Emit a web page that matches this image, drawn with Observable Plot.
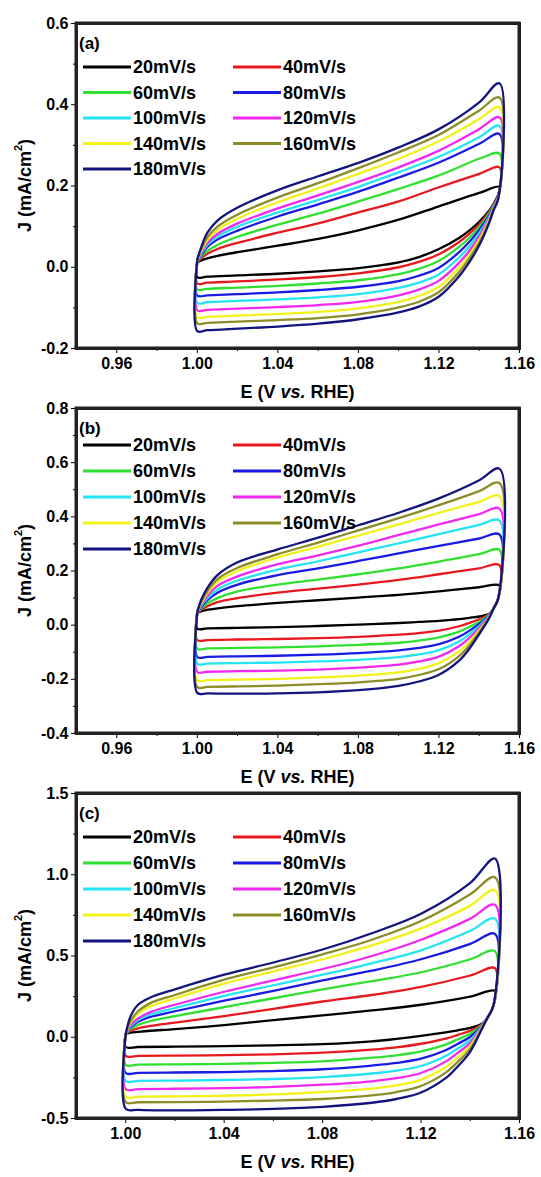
<!DOCTYPE html>
<html>
<head>
<meta charset="utf-8">
<script src="https://cdn.jsdelivr.net/npm/d3@7"></script>
<script src="https://cdn.jsdelivr.net/npm/@observablehq/plot@0.6"></script>
<style>
  html, body { margin: 0; padding: 0; background: #ffffff; }
  body { width: 541px; height: 1177px; overflow: hidden; font-family: "Liberation Sans", Arial, sans-serif; }
  #chart svg { display: block; overflow: visible; margin-bottom: -15px; }
</style>
</head>
<body>
<div id="chart"></div>
<script>
// ---------- data ----------
const rates = ["20mV/s", "40mV/s", "60mV/s", "80mV/s", "100mV/s", "120mV/s", "140mV/s", "160mV/s", "180mV/s"];
const colors = ["#000000", "#e8191e", "#2fe02f", "#1a1ae6", "#22e4f2", "#f028f0", "#f2f21a", "#8c8c28", "#14147f"];

// potential grids (V vs. RHE): anodic sweep then cathodic sweep
const anodicE = [1.000, 1.002, 1.005, 1.01, 1.02, 1.04, 1.06, 1.08, 1.10, 1.12, 1.14, 1.15];
const cathodicE = [1.1495, 1.147, 1.145, 1.14, 1.135, 1.13, 1.12, 1.11, 1.10, 1.08, 1.06, 1.04, 1.02, 1.005, 1.000];

// panel (a) current density (mA/cm2)
const aAnodic = [
  [0.012, 0.017, 0.022, 0.028, 0.037, 0.053, 0.070, 0.091, 0.117, 0.150, 0.183, 0.198],
  [0.013, 0.022, 0.033, 0.045, 0.060, 0.085, 0.108, 0.135, 0.162, 0.197, 0.230, 0.246],
  [0.014, 0.026, 0.040, 0.055, 0.075, 0.105, 0.132, 0.162, 0.193, 0.226, 0.267, 0.280],
  [0.015, 0.030, 0.050, 0.068, 0.090, 0.125, 0.155, 0.186, 0.221, 0.258, 0.304, 0.328],
  [0.016, 0.033, 0.055, 0.075, 0.100, 0.135, 0.166, 0.198, 0.234, 0.272, 0.320, 0.348],
  [0.017, 0.036, 0.060, 0.082, 0.108, 0.145, 0.177, 0.210, 0.246, 0.287, 0.340, 0.369],
  [0.018, 0.040, 0.067, 0.092, 0.120, 0.160, 0.194, 0.230, 0.267, 0.310, 0.365, 0.394],
  [0.019, 0.044, 0.074, 0.100, 0.130, 0.172, 0.207, 0.244, 0.283, 0.326, 0.386, 0.418],
  [0.020, 0.050, 0.085, 0.115, 0.147, 0.190, 0.224, 0.257, 0.295, 0.340, 0.406, 0.453]
];
const aCathodic = [
  [0.180, 0.155, 0.140, 0.112, 0.090, 0.072, 0.045, 0.025, 0.012, -0.002, -0.010, -0.016, -0.020, -0.023, -0.025],
  [0.178, 0.153, 0.137, 0.106, 0.082, 0.062, 0.032, 0.013, 0.000, -0.015, -0.024, -0.030, -0.035, -0.038, -0.040],
  [0.176, 0.151, 0.133, 0.099, 0.072, 0.050, 0.016, -0.004, -0.017, -0.032, -0.040, -0.046, -0.050, -0.053, -0.055],
  [0.175, 0.149, 0.129, 0.092, 0.062, 0.037, -0.001, -0.021, -0.034, -0.048, -0.056, -0.062, -0.066, -0.069, -0.070],
  [0.174, 0.147, 0.125, 0.084, 0.051, 0.024, -0.017, -0.038, -0.051, -0.066, -0.074, -0.079, -0.083, -0.086, -0.088],
  [0.173, 0.145, 0.121, 0.076, 0.040, 0.011, -0.033, -0.055, -0.069, -0.085, -0.093, -0.098, -0.102, -0.105, -0.106],
  [0.172, 0.143, 0.117, 0.068, 0.030, -0.001, -0.048, -0.071, -0.085, -0.101, -0.110, -0.115, -0.119, -0.122, -0.123],
  [0.171, 0.141, 0.113, 0.061, 0.021, -0.012, -0.061, -0.085, -0.099, -0.116, -0.125, -0.130, -0.134, -0.137, -0.138],
  [0.170, 0.139, 0.110, 0.054, 0.012, -0.022, -0.072, -0.097, -0.111, -0.128, -0.139, -0.146, -0.151, -0.155, -0.157]
];

// panel (b)
const bAnodic = [
  [0.045, 0.052, 0.057, 0.062, 0.070, 0.082, 0.092, 0.102, 0.112, 0.125, 0.140, 0.147],
  [0.046, 0.057, 0.070, 0.085, 0.100, 0.120, 0.135, 0.150, 0.167, 0.188, 0.210, 0.222],
  [0.047, 0.062, 0.080, 0.100, 0.125, 0.150, 0.168, 0.188, 0.210, 0.235, 0.262, 0.278],
  [0.048, 0.067, 0.092, 0.120, 0.150, 0.185, 0.210, 0.237, 0.265, 0.293, 0.320, 0.335],
  [0.049, 0.072, 0.100, 0.132, 0.165, 0.205, 0.236, 0.269, 0.302, 0.336, 0.370, 0.387],
  [0.050, 0.077, 0.108, 0.145, 0.180, 0.225, 0.258, 0.294, 0.333, 0.372, 0.410, 0.430],
  [0.050, 0.082, 0.118, 0.160, 0.200, 0.250, 0.290, 0.331, 0.372, 0.415, 0.455, 0.477],
  [0.050, 0.087, 0.125, 0.170, 0.212, 0.262, 0.305, 0.350, 0.395, 0.443, 0.495, 0.525],
  [0.050, 0.095, 0.138, 0.185, 0.232, 0.280, 0.323, 0.369, 0.415, 0.468, 0.535, 0.578]
];
const bCathodic = [
  [0.100, 0.060, 0.042, 0.032, 0.027, 0.022, 0.016, 0.012, 0.008, 0.002, -0.003, -0.007, -0.010, -0.012, -0.013],
  [0.100, 0.060, 0.041, 0.022, 0.008, -0.004, -0.020, -0.029, -0.035, -0.043, -0.048, -0.051, -0.053, -0.055, -0.055],
  [0.100, 0.060, 0.039, 0.013, -0.007, -0.024, -0.045, -0.057, -0.065, -0.073, -0.078, -0.082, -0.084, -0.086, -0.087],
  [0.100, 0.060, 0.037, 0.005, -0.021, -0.043, -0.070, -0.084, -0.093, -0.103, -0.109, -0.113, -0.115, -0.117, -0.118],
  [0.100, 0.060, 0.035, -0.003, -0.034, -0.060, -0.092, -0.108, -0.118, -0.128, -0.134, -0.138, -0.140, -0.142, -0.143],
  [0.100, 0.060, 0.033, -0.011, -0.048, -0.078, -0.116, -0.134, -0.146, -0.157, -0.164, -0.168, -0.170, -0.172, -0.173],
  [0.100, 0.060, 0.031, -0.019, -0.062, -0.097, -0.140, -0.161, -0.174, -0.186, -0.193, -0.198, -0.201, -0.203, -0.204],
  [0.100, 0.060, 0.029, -0.026, -0.075, -0.114, -0.162, -0.184, -0.198, -0.211, -0.218, -0.223, -0.226, -0.228, -0.229],
  [0.100, 0.060, 0.027, -0.033, -0.088, -0.131, -0.183, -0.208, -0.224, -0.240, -0.248, -0.252, -0.253, -0.252, -0.250]
];

// panel (c)
const cAnodic = [
  [0.020, 0.028, 0.033, 0.040, 0.050, 0.075, 0.105, 0.135, 0.165, 0.200, 0.250, 0.285],
  [0.020, 0.040, 0.055, 0.070, 0.090, 0.130, 0.175, 0.220, 0.260, 0.310, 0.380, 0.425],
  [0.020, 0.050, 0.075, 0.100, 0.130, 0.185, 0.240, 0.295, 0.345, 0.400, 0.480, 0.530],
  [0.020, 0.060, 0.095, 0.125, 0.160, 0.225, 0.285, 0.350, 0.410, 0.480, 0.575, 0.636],
  [0.020, 0.068, 0.105, 0.140, 0.180, 0.255, 0.320, 0.385, 0.455, 0.535, 0.655, 0.730],
  [0.020, 0.075, 0.115, 0.155, 0.200, 0.280, 0.350, 0.420, 0.500, 0.600, 0.730, 0.815],
  [0.020, 0.090, 0.145, 0.190, 0.240, 0.330, 0.405, 0.480, 0.565, 0.670, 0.810, 0.905],
  [0.020, 0.100, 0.160, 0.210, 0.260, 0.355, 0.430, 0.510, 0.600, 0.715, 0.880, 0.985],
  [0.020, 0.130, 0.200, 0.245, 0.295, 0.385, 0.460, 0.540, 0.640, 0.760, 0.950, 1.100]
];
const cCathodic = [
  [0.200, 0.120, 0.085, 0.058, 0.043, 0.030, 0.008, -0.010, -0.025, -0.042, -0.050, -0.055, -0.058, -0.060, -0.060],
  [0.200, 0.120, 0.082, 0.040, 0.015, -0.008, -0.040, -0.062, -0.076, -0.095, -0.105, -0.110, -0.113, -0.115, -0.115],
  [0.200, 0.120, 0.079, 0.022, -0.012, -0.045, -0.087, -0.111, -0.126, -0.148, -0.158, -0.164, -0.167, -0.169, -0.170],
  [0.200, 0.120, 0.076, 0.003, -0.040, -0.080, -0.132, -0.158, -0.174, -0.197, -0.208, -0.214, -0.217, -0.219, -0.220],
  [0.200, 0.120, 0.073, -0.016, -0.068, -0.115, -0.177, -0.205, -0.223, -0.245, -0.257, -0.263, -0.267, -0.269, -0.270],
  [0.200, 0.120, 0.070, -0.034, -0.095, -0.150, -0.220, -0.252, -0.271, -0.292, -0.306, -0.313, -0.317, -0.319, -0.320],
  [0.200, 0.120, 0.067, -0.052, -0.122, -0.185, -0.262, -0.296, -0.316, -0.337, -0.352, -0.360, -0.364, -0.366, -0.367],
  [0.200, 0.120, 0.064, -0.070, -0.150, -0.218, -0.300, -0.337, -0.358, -0.380, -0.390, -0.396, -0.399, -0.400, -0.400],
  [0.200, 0.120, 0.060, -0.088, -0.178, -0.252, -0.340, -0.380, -0.403, -0.428, -0.441, -0.447, -0.450, -0.447, -0.440]
];

// tick values
const xMajorAB = [0.96, 1.00, 1.04, 1.08, 1.12, 1.16];
const xMinorAB = [0.98, 1.02, 1.06, 1.10, 1.14];
const xMajorC = [1.00, 1.04, 1.08, 1.12, 1.16];
const xMinorC = [1.02, 1.06, 1.10, 1.14];
const yMajorA = [-0.2, 0.0, 0.2, 0.4, 0.6];
const yMinorA = [-0.1, 0.1, 0.3, 0.5];
const yMajorB = [-0.4, -0.2, 0.0, 0.2, 0.4, 0.6, 0.8];
const yMinorB = [-0.3, -0.1, 0.1, 0.3, 0.5, 0.7];
const yMajorC = [-0.5, 0.0, 0.5, 1.0, 1.5];
const yMinorC = [-0.25, 0.25, 0.75, 1.25];

// ---------- build ----------
const FONT = "Liberation Sans, Arial, sans-serif";
const BOX = "#222222";

function loops(anodic, cathodic) {
  const rows = [];
  rates.forEach((r, i) => {
    anodicE.forEach((e, k) => rows.push({rate: r, E: e, J: anodic[i][k]}));
    cathodicE.forEach((e, k) => rows.push({rate: r, E: e, J: cathodic[i][k]}));
    rows.push({rate: r, E: anodicE[0], J: anodic[i][0]});
  });
  return rows;
}

// box, legend, panel letter and axis titles appended to the finished SVG
function decor(svg, label, legTop, legStep) {
  const ml = 76, mt = 23, fr = 541 - 22, fb = 400 - 52;
  const g = d3.select(svg).append("g")
    .attr("font-family", FONT).attr("font-weight", "bold").attr("fill", "#000000");
  const edges = [[ml - 1.5, mt, fr + 1.5, mt], [fr, mt, fr, fb], [ml - 1.5, fb, fr + 1.5, fb], [ml, mt, ml, fb]];
  edges.forEach(([x1, y1, x2, y2]) => {
    g.append("line").attr("x1", x1).attr("y1", y1).attr("x2", x2).attr("y2", y2)
      .attr("stroke", BOX).attr("stroke-width", 3);
  });
  g.append("text").attr("x", ml + 3).attr("y", mt + 20).attr("text-anchor", "start")
    .attr("dominant-baseline", "central").attr("font-size", 17).text(label);
  rates.forEach((r, i) => {
    const col = i % 2, row = Math.floor(i / 2);
    const x0 = ml + (col === 0 ? 7 : 157);
    const y = mt + legTop + row * legStep;
    g.append("line").attr("x1", x0).attr("x2", x0 + 48).attr("y1", y).attr("y2", y)
      .attr("stroke", colors[i]).attr("stroke-width", 3);
    g.append("text").attr("x", x0 + 50).attr("y", y).attr("text-anchor", "start")
      .attr("dominant-baseline", "central").attr("font-size", 18).text(r);
  });
  const xt = g.append("text").attr("x", (ml + fr) / 2).attr("y", fb + 44)
    .attr("text-anchor", "middle").attr("dominant-baseline", "central").attr("font-size", 18);
  xt.append("tspan").text("E (V ");
  xt.append("tspan").attr("font-style", "italic").text("vs.");
  xt.append("tspan").text(" RHE)");
  const yt = g.append("text").attr("transform", `translate(25,${(mt + fb) / 2}) rotate(-90)`)
    .attr("text-anchor", "middle").attr("dominant-baseline", "central").attr("font-size", 18);
  yt.append("tspan").text("J (mA/cm");
  yt.append("tspan").attr("font-size", 11).attr("dy", -7).text("2");
  yt.append("tspan").attr("dy", 7).text(")");
}

function panel(o) {
  const svg = Plot.plot({
    width: 541, height: 400,
    marginTop: 23, marginBottom: 52, marginLeft: 76, marginRight: 22,
    style: {background: "transparent", overflow: "visible", fontFamily: FONT},
    x: {domain: o.xDomain},
    y: {domain: o.yDomain},
    color: {domain: rates, range: colors},
    marks: [
      Plot.line(loops(o.anodic, o.cathodic), {
        x: "E", y: "J", z: "rate", stroke: "rate",
        strokeWidth: 2.3, curve: "catmull-rom"
      }),
      Plot.axisX(o.xMajor, {tickSize: 5, tickPadding: 4, tickFormat: d => d.toFixed(2),
        fontSize: 16, fontWeight: "bold", label: null}),
      Plot.axisX(o.xMinor, {tickSize: 3, tickFormat: () => "", label: null}),
      Plot.axisY(o.yMajor, {tickSize: 5, tickPadding: 3, tickFormat: d => d.toFixed(1),
        fontSize: 16, fontWeight: "bold", label: null}),
      Plot.axisY(o.yMinor, {tickSize: 3, tickFormat: () => "", label: null}),
      Plot.frame({stroke: BOX, strokeWidth: 3})
    ]
  });
  decor(svg, o.label, o.legTop, o.legStep);
  return svg;
}

const root = document.getElementById("chart");
root.append(panel({label: "(a)", xDomain: [0.94, 1.16], yDomain: [-0.2, 0.6],
  xMajor: xMajorAB, xMinor: xMinorAB, yMajor: yMajorA, yMinor: yMinorA,
  anodic: aAnodic, cathodic: aCathodic, legTop: 44, legStep: 25.5}));
root.append(panel({label: "(b)", xDomain: [0.94, 1.16], yDomain: [-0.4, 0.8],
  xMajor: xMajorAB, xMinor: xMinorAB, yMajor: yMajorB, yMinor: yMinorB,
  anodic: bAnodic, cathodic: bCathodic, legTop: 37, legStep: 26}));
root.append(panel({label: "(c)", xDomain: [0.98, 1.16], yDomain: [-0.5, 1.5],
  xMajor: xMajorC, xMinor: xMinorC, yMajor: yMajorC, yMinor: yMinorC,
  anodic: cAnodic, cathodic: cCathodic, legTop: 44, legStep: 26}));
</script>
</body>
</html>
